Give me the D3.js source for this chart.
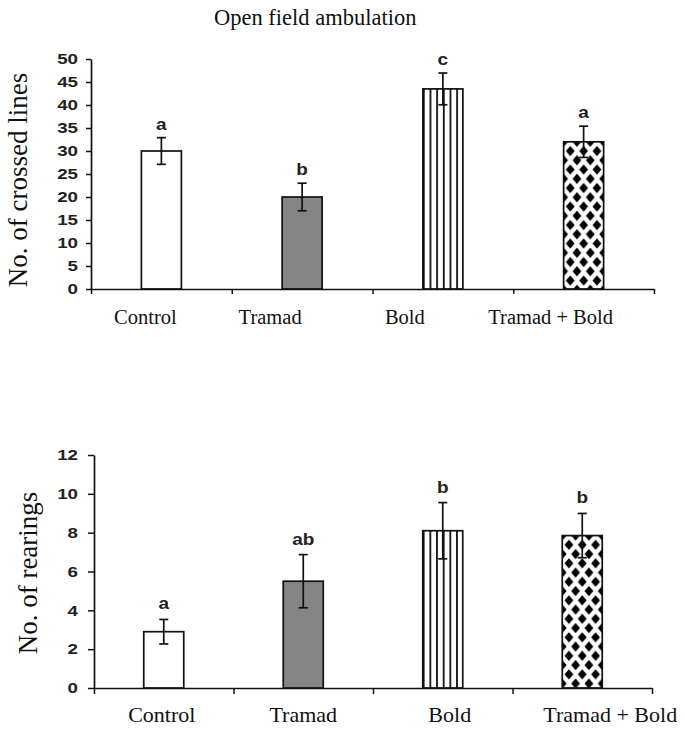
<!DOCTYPE html>
<html><head><meta charset="utf-8">
<script src="https://cdn.jsdelivr.net/npm/d3@7"></script>
<style>body{margin:0;background:#fff}svg{display:block}</style>
</head><body><svg id="c" width="685" height="731"></svg>
<script>
// ---------- data ----------
const categories = ["Control", "Tramad", "Bold", "Tramad + Bold"];
const crossedMeans = [30, 20, 43.5, 32];
const crossedErrors = [2.9, 3.0, 3.45, 3.4];
const crossedLetters = ["a", "b", "c", "a"];
const crossedTicks = [0, 5, 10, 15, 20, 25, 30, 35, 40, 45, 50];
const rearingMeans = [2.9, 5.5, 8.1, 7.85];
const rearingErrors = [0.63, 1.37, 1.45, 1.14];
const rearingLetters = ["a", "ab", "b", "b"];
const rearingTicks = [0, 2, 4, 6, 8, 10, 12];
const titleText = "Open field ambulation";
const crossedLabel = "No. of crossed lines";
const rearingLabel = "No. of rearings";

// ---------- layout ----------
const svg = d3.select("#c");
const defs = svg.append("defs");
const panels = [
  {key: "top", means: crossedMeans, errors: crossedErrors, letters: crossedLetters, ticks: crossedTicks,
   label: crossedLabel, x0: 91, x1: 654, yTop: 59, yBot: 289, tickSize: 5, tickPad: 8,
   catFont: 20.5, catBase: 35, catShift: [-16, -32, -38, -33], yLabX: 27, yLabY: 180, gap: 8},
  {key: "bot", means: rearingMeans, errors: rearingErrors, letters: rearingLetters, ticks: rearingTicks,
   label: rearingLabel, x0: 94, x1: 652, yTop: 455, yBot: 688, tickSize: 6, tickPad: 10,
   catFont: 22, catBase: 34, catShift: [-2, 0, 7, 28], yLabX: 37, yLabY: 573, gap: 10}
];
const barW = 40;
const serif = "'Liberation Serif','Times New Roman',serif";
const sans = "'Liberation Sans',Arial,sans-serif";

svg.append("text").attr("x", 214).attr("y", 25).attr("font-family", serif)
  .attr("font-size", 22.5).attr("fill", "#111").text(titleText);

panels.forEach(p => {
  const y = d3.scaleLinear().domain([0, d3.max(p.ticks)]).range([p.yBot, p.yTop]);
  const x = d3.scaleBand().domain(categories).range([p.x0, p.x1]).padding(0);
  const cx = c => x(c) + x.bandwidth() / 2;
  const g = svg.append("g");

  // patterns
  const bx = cx(categories[2]) - barW / 2;
  const vp = defs.append("pattern").attr("id", "vl-" + p.key).attr("patternUnits", "userSpaceOnUse")
    .attr("x", bx).attr("y", 0).attr("width", barW / 6).attr("height", 10);
  vp.append("rect").attr("width", barW / 6).attr("height", 10).attr("fill", "#fff");
  vp.append("rect").attr("x", 0).attr("width", 1.8).attr("height", 10).attr("fill", "#111");

  const dx = cx(categories[3]) - barW / 2;
  const dy = y(p.means[3]);
  const tw = barW / 3, th = 18.5, hx = 4.4, hy = 5.0;
  const dp = defs.append("pattern").attr("id", "dm-" + p.key).attr("patternUnits", "userSpaceOnUse")
    .attr("x", dx).attr("y", dy).attr("width", tw).attr("height", th);
  dp.append("rect").attr("width", tw).attr("height", th).attr("fill", "#fff");
  [[tw / 2, th / 2], [0, 0], [tw, 0], [0, th], [tw, th]].forEach(([a, b]) => {
    dp.append("polygon").attr("fill", "#000")
      .attr("points", `${a - hx},${b} ${a},${b - hy} ${a + hx},${b} ${a},${b + hy}`);
  });

  const fills = ["#ffffff", "#858585", `url(#vl-${p.key})`, `url(#dm-${p.key})`];

  // bars
  g.selectAll("rect.bar").data(categories).join("rect").attr("class", "bar")
    .attr("x", c => cx(c) - barW / 2).attr("width", barW)
    .attr("y", (c, i) => y(p.means[i])).attr("height", (c, i) => y(0) - y(p.means[i]))
    .attr("fill", (c, i) => fills[i]).attr("stroke", "#111").attr("stroke-width", 1.7);

  // error bars
  const eg = g.selectAll("g.err").data(categories).join("g").attr("class", "err")
    .attr("stroke", "#111").attr("stroke-width", 1.7);
  eg.append("line").attr("x1", c => cx(c)).attr("x2", c => cx(c))
    .attr("y1", (c, i) => y(p.means[i] + p.errors[i])).attr("y2", (c, i) => y(p.means[i] - p.errors[i]));
  eg.append("line").attr("x1", c => cx(c) - 4.5).attr("x2", c => cx(c) + 4.5)
    .attr("y1", (c, i) => y(p.means[i] + p.errors[i])).attr("y2", (c, i) => y(p.means[i] + p.errors[i]));
  eg.append("line").attr("x1", c => cx(c) - 4.5).attr("x2", c => cx(c) + 4.5)
    .attr("y1", (c, i) => y(p.means[i] - p.errors[i])).attr("y2", (c, i) => y(p.means[i] - p.errors[i]));

  // letters
  g.selectAll("text.lt").data(categories).join("text").attr("class", "lt")
    .attr("transform", (c, i) => `translate(${cx(c)},${y(p.means[i] + p.errors[i]) - p.gap}) scale(1.15,1)`)
    .attr("text-anchor", "middle").attr("font-family", sans).attr("font-weight", "bold")
    .attr("font-size", 16.5).attr("fill", "#222").text((c, i) => p.letters[i]);

  // y axis
  const ya = g.append("g").attr("transform", `translate(${p.x0},0)`)
    .call(d3.axisLeft(y).tickValues(p.ticks).tickSize(p.tickSize).tickSizeOuter(0).tickPadding(0));
  ya.select(".domain").attr("stroke", "#111").attr("stroke-width", 1.7);
  ya.selectAll(".tick line").attr("stroke", "#111").attr("stroke-width", 1.5);
  ya.selectAll(".tick text").attr("x", 0)
    .attr("transform", `translate(${-(p.tickSize + p.tickPad)},0) scale(1.25,1)`)
    .attr("font-family", sans).attr("font-weight", "bold").attr("font-size", 15).attr("fill", "#222");

  // x axis (category boundaries)
  const xb = d3.scaleLinear().domain([0, categories.length]).range([p.x0, p.x1]);
  const xa = g.append("g").attr("transform", `translate(0,${p.yBot})`)
    .call(d3.axisBottom(xb).tickValues(d3.range(categories.length + 1)).tickFormat("")
      .tickSize(p.tickSize).tickSizeOuter(0));
  xa.select(".domain").attr("stroke", "#111").attr("stroke-width", 1.7);
  xa.selectAll(".tick line").attr("stroke", "#111").attr("stroke-width", 1.5);

  // category labels
  g.selectAll("text.cat").data(categories).join("text").attr("class", "cat")
    .attr("x", (c, i) => cx(c) + p.catShift[i]).attr("y", p.yBot + p.catBase)
    .attr("text-anchor", "middle").attr("font-family", serif).attr("font-size", p.catFont)
    .attr("fill", "#111").text(c => c);

  // y label
  g.append("text").attr("transform", `translate(${p.yLabX},${p.yLabY}) rotate(-90)`)
    .attr("text-anchor", "middle").attr("font-family", serif).attr("font-size", 27)
    .attr("fill", "#111").text(p.label);
});
</script></body></html>
